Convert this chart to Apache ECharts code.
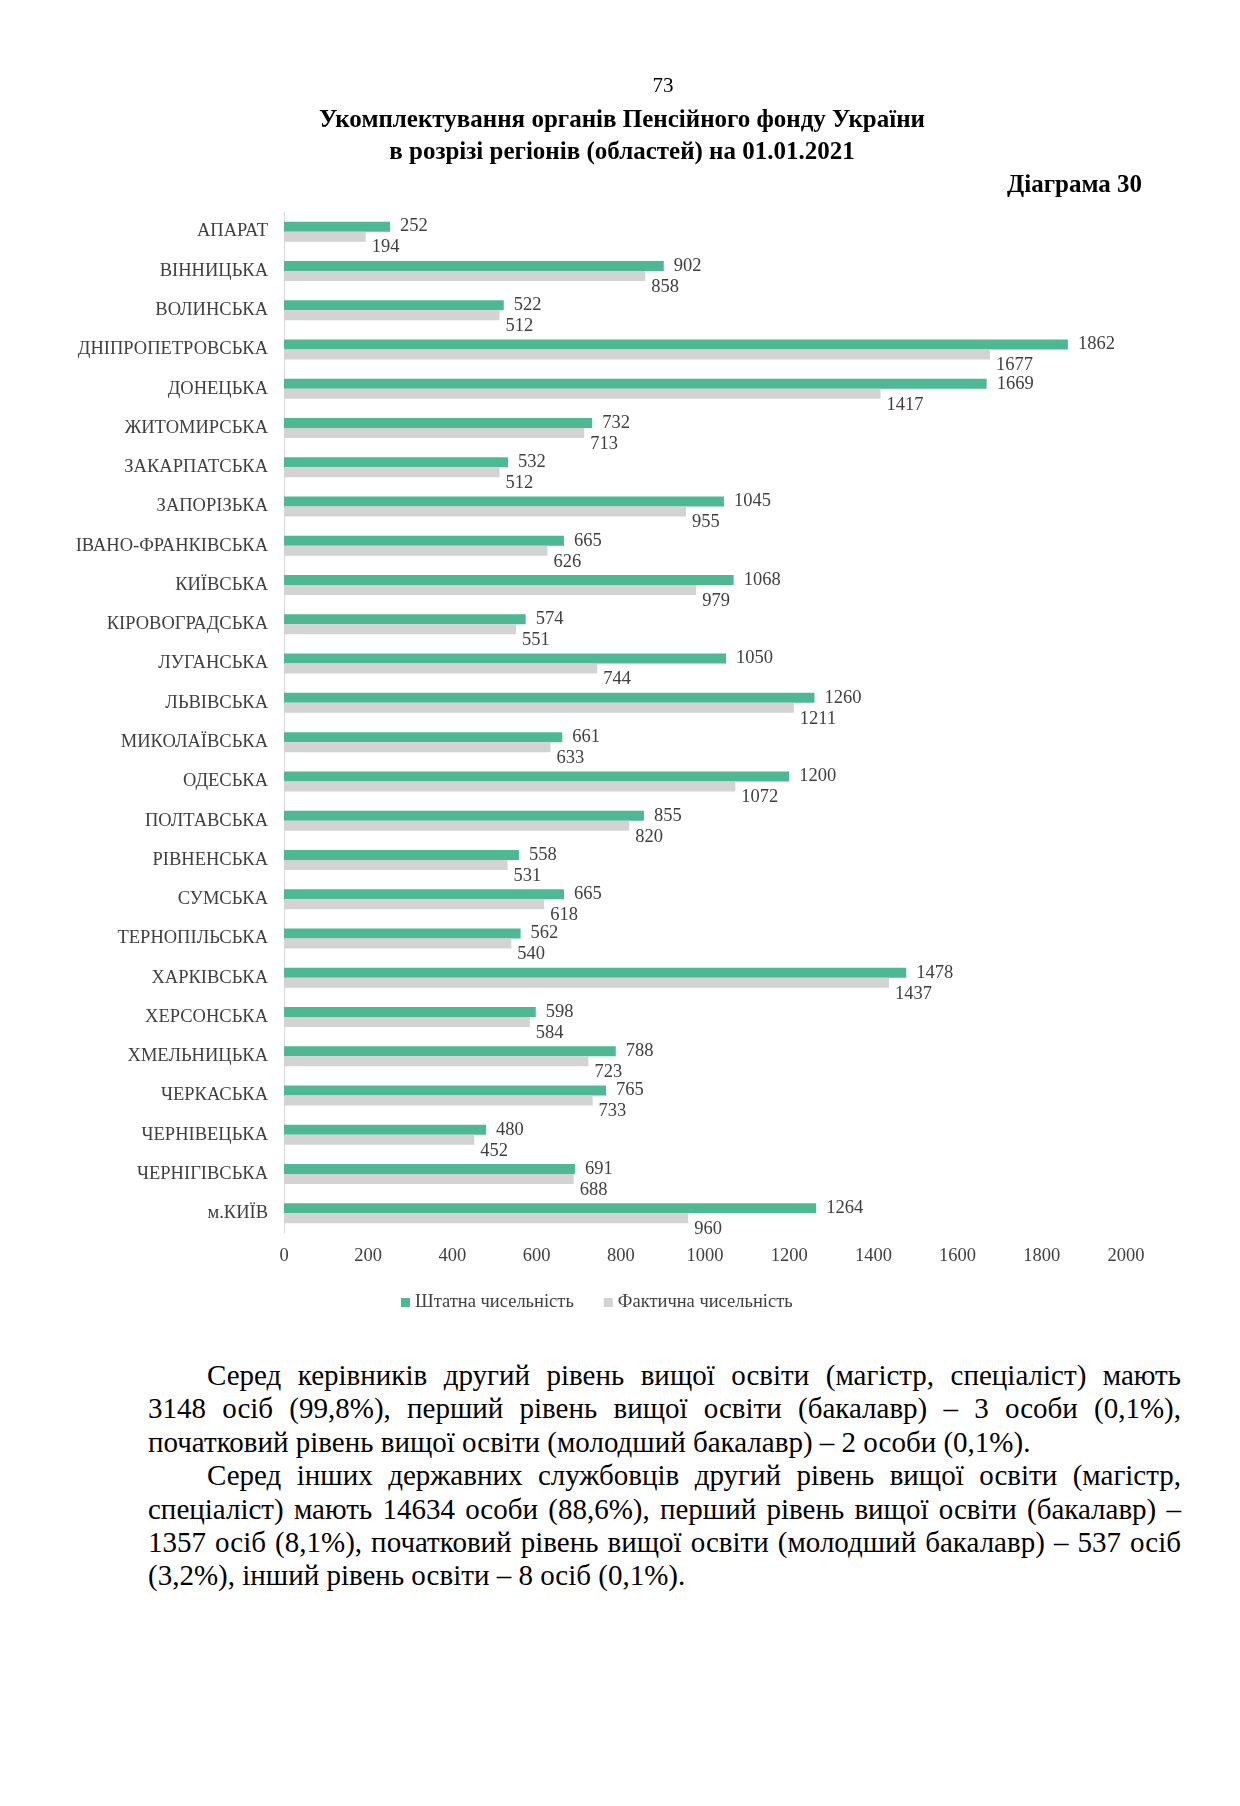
<!DOCTYPE html>
<html>
<head>
<meta charset="utf-8">
<script src="https://cdn.jsdelivr.net/npm/echarts@6/dist/echarts.min.js"></script>
<style>
  html, body { margin: 0; padding: 0; background: #fff; }
  body { width: 1240px; height: 1806px; position: relative; font-family: "Liberation Serif", "Times New Roman", serif; color: #000; }
  #chart { position: absolute; left: 0; top: 0; width: 1240px; height: 1340px; }
  .abs { position: absolute; white-space: nowrap; }
  .pnum { left: 0; width: 1326px; text-align: center; top: 73px; font-size: 21px; }
  .title { left: 0; width: 1244px; text-align: center; font-size: 25px; font-weight: bold; }
  .diag { right: 98px; top: 170px; font-size: 25px; font-weight: bold; }
  .body { position: absolute; left: 148px; width: 1033px; font-size: 29px; line-height: 33.4px; top: 1359px; }
  .ln { white-space: nowrap; text-align: justify; text-align-last: justify; }
  .ln.last { text-align-last: left; }
  .ind { padding-left: 59px; }
</style>
</head>
<body>
<div id="chart"></div>
<div class="abs pnum">73</div>
<div class="abs title" style="top:105px">Укомплектування органів Пенсійного фонду України</div>
<div class="abs title" style="top:137px">в розрізі регіонів (областей) на 01.01.2021</div>
<div class="abs diag">Діаграма 30</div>
<div class="body">
  <div class="ln ind">Серед керівників другий рівень вищої освіти (магістр, спеціаліст) мають</div>
  <div class="ln">3148 осіб (99,8%), перший рівень вищої освіти (бакалавр) – 3 особи (0,1%),</div>
  <div class="ln last">початковий рівень вищої освіти (молодший бакалавр) – 2 особи (0,1%).</div>
  <div class="ln ind">Серед інших державних службовців другий рівень вищої освіти (магістр,</div>
  <div class="ln">спеціаліст) мають 14634 особи (88,6%), перший рівень вищої освіти (бакалавр) –</div>
  <div class="ln">1357 осіб (8,1%), початковий рівень вищої освіти (молодший бакалавр) – 537 осіб</div>
  <div class="ln last">(3,2%), інший рівень освіти – 8 осіб (0,1%).</div>
</div>
<script>
const categories = ["АПАРАТ","ВІННИЦЬКА","ВОЛИНСЬКА","ДНІПРОПЕТРОВСЬКА","ДОНЕЦЬКА","ЖИТОМИРСЬКА","ЗАКАРПАТСЬКА","ЗАПОРІЗЬКА","ІВАНО-ФРАНКІВСЬКА","КИЇВСЬКА","КІРОВОГРАДСЬКА","ЛУГАНСЬКА","ЛЬВІВСЬКА","МИКОЛАЇВСЬКА","ОДЕСЬКА","ПОЛТАВСЬКА","РІВНЕНСЬКА","СУМСЬКА","ТЕРНОПІЛЬСЬКА","ХАРКІВСЬКА","ХЕРСОНСЬКА","ХМЕЛЬНИЦЬКА","ЧЕРКАСЬКА","ЧЕРНІВЕЦЬКА","ЧЕРНІГІВСЬКА","м.КИЇВ"];
const staffNorm = [252,902,522,1862,1669,732,532,1045,665,1068,574,1050,1260,661,1200,855,558,665,562,1478,598,788,765,480,691,1264];
const staffActual = [194,858,512,1677,1417,713,512,955,626,979,551,744,1211,633,1072,820,531,618,540,1437,584,723,733,452,688,960];
const seriesNames = ["Штатна чисельність","Фактична чисельність"];
const xTicks = {min: 0, max: 2000, interval: 200};

const FONT = "Liberation Serif";
const FS = 18.5;
const TXT = "#404040";
const chart = echarts.init(document.getElementById('chart'), null, {renderer: 'canvas'});
chart.setOption({
  animation: false,
  textStyle: {fontFamily: FONT},
  grid: {left: 284, right: 114, top: 212, height: 1021, containLabel: false},
  legend: {
    data: seriesNames,
    left: 396, top: 1288,
    icon: 'rect', itemWidth: 9, itemHeight: 9, itemGap: 30,
    textStyle: {fontFamily: FONT, fontSize: FS, color: TXT}
  },
  xAxis: {
    type: 'value', min: xTicks.min, max: xTicks.max, interval: xTicks.interval,
    axisLine: {show: false}, axisTick: {show: false}, splitLine: {show: false},
    axisLabel: {fontFamily: FONT, fontSize: FS, color: TXT, margin: 14, formatter: v => String(v)}
  },
  yAxis: {
    type: 'category', data: categories, inverse: true,
    axisLine: {show: true, lineStyle: {color: '#d9d9d9', width: 1}},
    axisTick: {show: false},
    axisLabel: {fontFamily: FONT, fontSize: FS, color: TXT, margin: 16, padding: [6, 0, 0, 0]}
  },
  series: [
    {
      name: seriesNames[0], type: 'bar', data: staffNorm,
      barWidth: 10, barGap: '0%',
      itemStyle: {color: '#4eb893'},
      label: {show: true, position: 'right', distance: 10, offset: [0, 0], fontFamily: FONT, fontSize: FS, color: TXT}
    },
    {
      name: seriesNames[1], type: 'bar', data: staffActual,
      barWidth: 10, barGap: '0%',
      itemStyle: {color: '#d3d3d3'},
      label: {show: true, position: 'right', distance: 6, offset: [0, 11], fontFamily: FONT, fontSize: FS, color: TXT}
    }
  ]
});
</script>
</body>
</html>
